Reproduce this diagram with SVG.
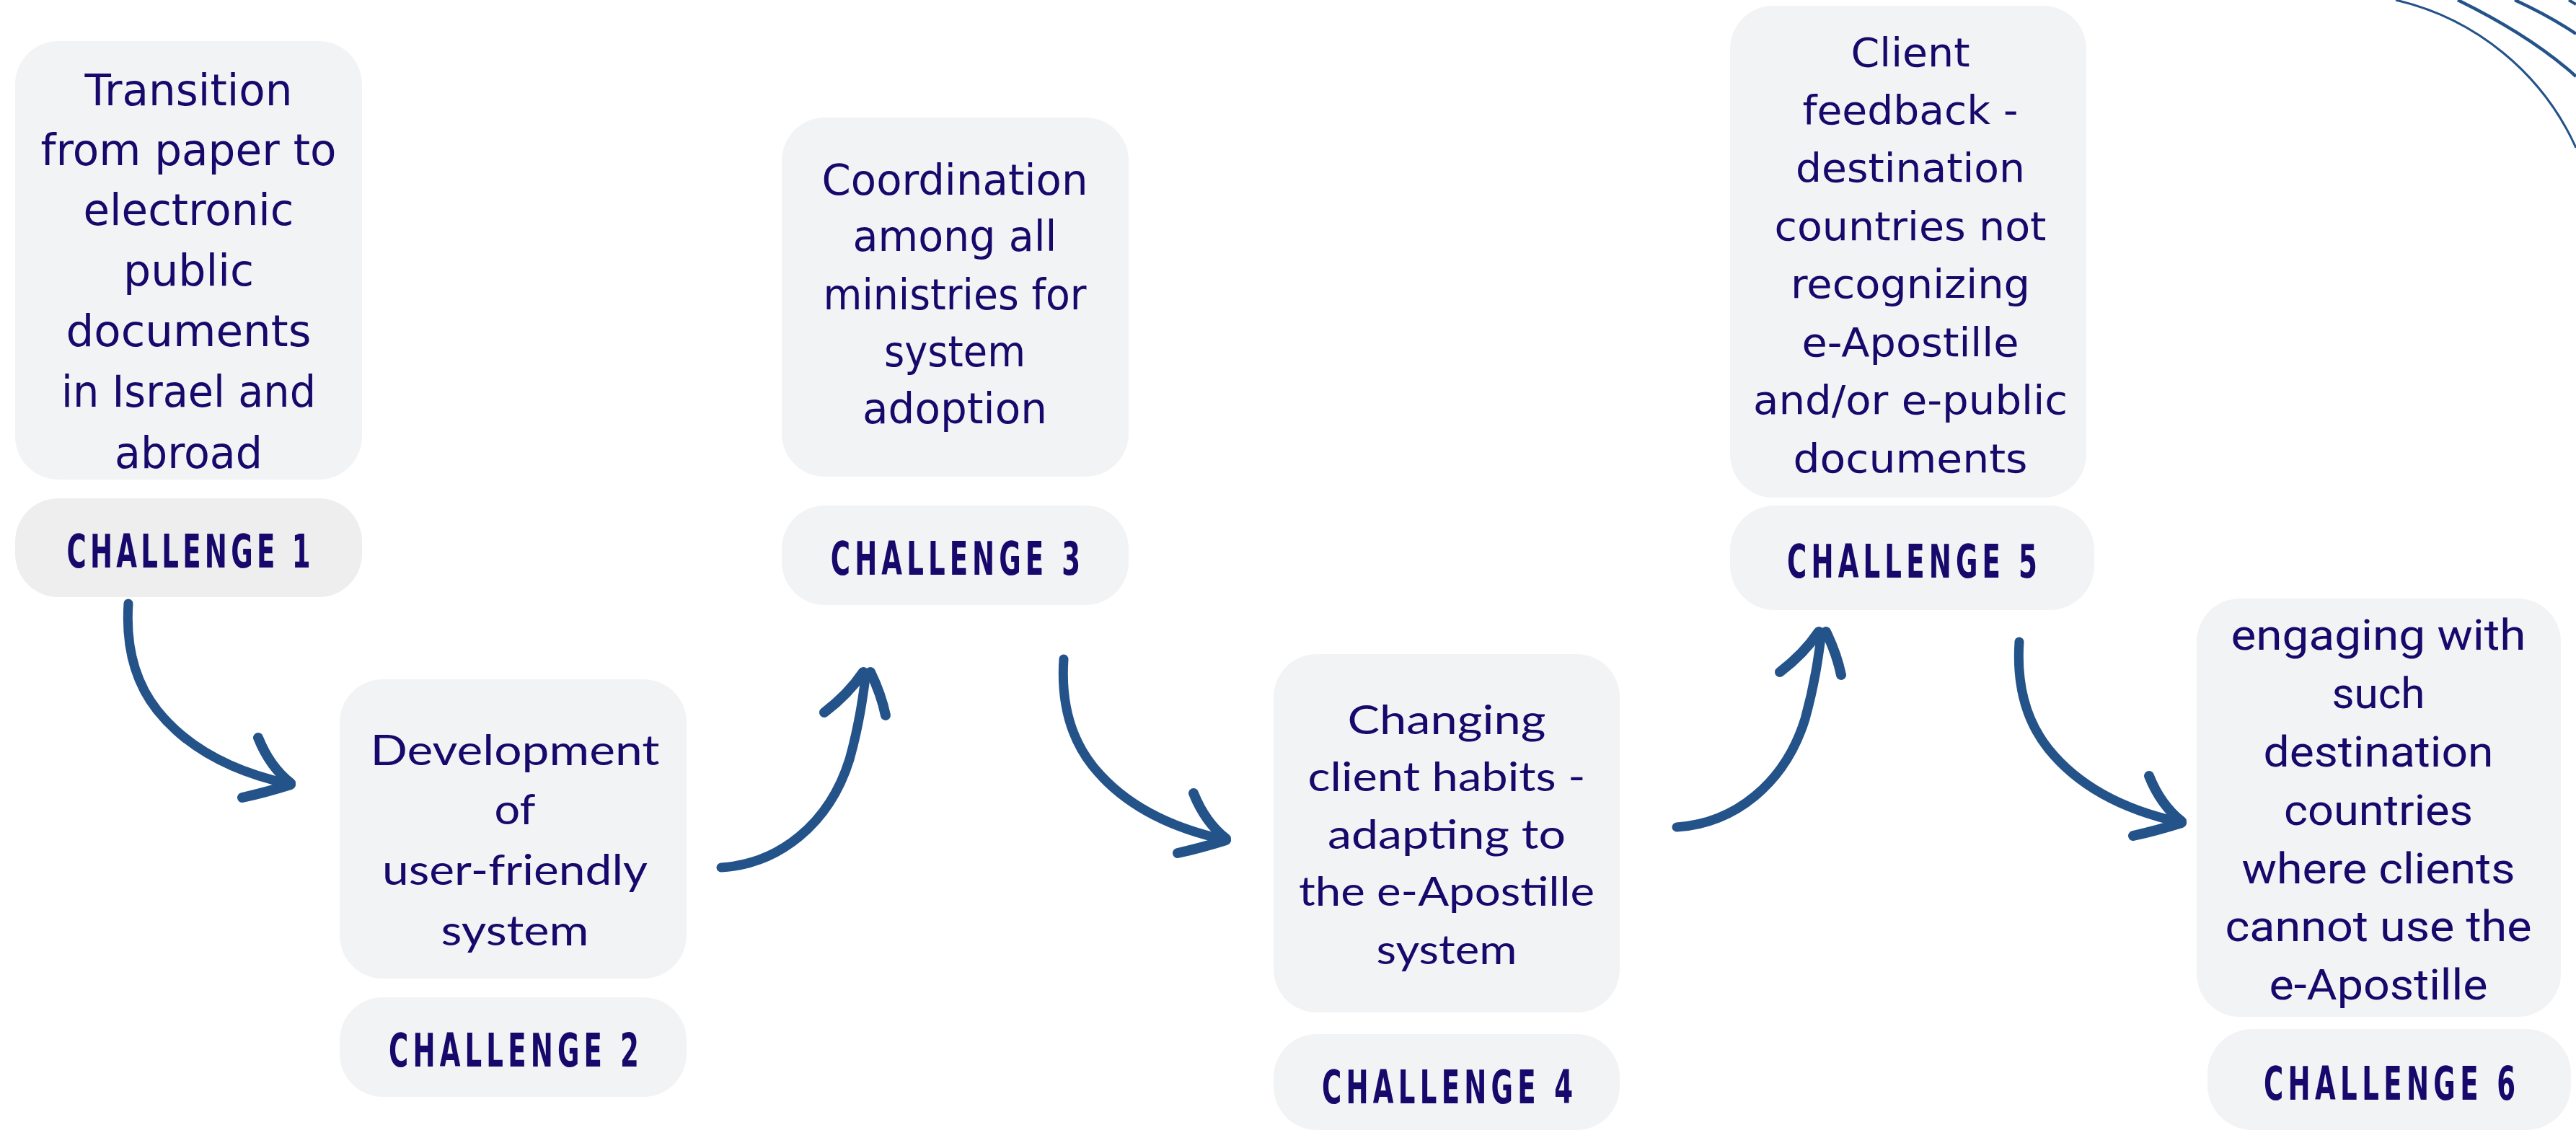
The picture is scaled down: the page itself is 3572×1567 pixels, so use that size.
<svg xmlns="http://www.w3.org/2000/svg" xmlns:xlink="http://www.w3.org/1999/xlink" width="3572" height="1567" viewBox="0 0 3572 1567">
<style>
.box{fill:#f2f3f5}
.lab1{fill:#eeeeee}
.t{fill:#16096b;text-anchor:middle}
.m{font-family:"DejaVu Sans","Noto Sans",sans-serif}
.g{font-family:Lato,"Noto Sans",sans-serif}
.r{font-family:Roboto,"Liberation Sans",sans-serif}
.c{font-family:"DejaVu Sans","Liberation Sans",sans-serif;font-weight:bold;font-size:64px}
.arr{fill:none;stroke:#24538a;stroke-linecap:round;stroke-linejoin:round}
.arc{fill:none;stroke:#24538a}
</style>
<defs>
<g id="arrowDown">
<path class="arr" stroke-width="13" d="M0,0 C-4,60 10,110 40,148 C80,198 140,232 222,250"/>
<path class="arr" stroke-width="14" d="M180,186 Q196,226 225,249"/>
<path class="arr" stroke-width="14" d="M225,251 Q190,262 158,269"/>
</g>
<g id="arrowUp">
<path class="arr" stroke-width="13" d="M0,0 C80,-5 150,-60 178,-150 C192,-200 197,-240 201,-270"/>
<path class="arr" stroke-width="14" d="M143,-215 Q176,-240 197,-271"/>
<path class="arr" stroke-width="14" d="M207,-271 Q222,-240 228,-211"/>
</g>
</defs>
<rect width="3572" height="1567" fill="#ffffff"/>

<g id="decor">
<path class="arc" stroke-width="3" d="M3322,0 A364,364 0 0 1 3572,205"/>
<path class="arc" stroke-width="4.5" d="M3408,0 Q3510,50 3572,106"/>
<path class="arc" stroke-width="4.5" d="M3487,0 Q3535,22 3572,47"/>
<path class="arc" stroke-width="4" d="M3562,0 Q3567,3 3572,6"/>
</g>

<g id="connectors">
<use xlink:href="#arrowDown" transform="translate(178,837)"/>
<use xlink:href="#arrowUp" transform="translate(1000,1203)"/>
<use xlink:href="#arrowDown" transform="translate(1475,914)"/>
<use xlink:href="#arrowUp" transform="translate(2325,1147)"/>
<use xlink:href="#arrowDown" transform="translate(2800,890)"/>
</g>

<g id="challenge1">
<rect class="box" x="21" y="57" width="481" height="608" rx="60"/>
<g class="t m" font-size="61">
<text x="261.5" y="146" textLength="288" lengthAdjust="spacingAndGlyphs">Transition</text>
<text x="261.5" y="229" textLength="410" lengthAdjust="spacingAndGlyphs">from paper to</text>
<text x="261.5" y="312" textLength="292" lengthAdjust="spacingAndGlyphs">electronic</text>
<text x="261.5" y="396" textLength="181" lengthAdjust="spacingAndGlyphs">public</text>
<text x="261.5" y="480" textLength="340" lengthAdjust="spacingAndGlyphs">documents</text>
<text x="261.5" y="564" textLength="353" lengthAdjust="spacingAndGlyphs">in Israel and</text>
<text x="261.5" y="649" textLength="205" lengthAdjust="spacingAndGlyphs">abroad</text>
</g>
<rect class="lab1" x="21" y="691" width="481" height="137" rx="60"/>
<text class="t c" transform="translate(261.5,787) scale(0.58,1)" x="0" y="0" textLength="583" lengthAdjust="spacing">CHALLENGE 1</text>
</g>

<g id="challenge2">
<rect class="box" x="471" y="942" width="481" height="415" rx="60"/>
<g class="t g" font-size="58">
<text x="714" y="1061" textLength="401" lengthAdjust="spacingAndGlyphs">Development</text>
<text x="714" y="1143" textLength="57" lengthAdjust="spacingAndGlyphs">of</text>
<text x="714" y="1227" textLength="368" lengthAdjust="spacingAndGlyphs">user-friendly</text>
<text x="714" y="1311" textLength="205" lengthAdjust="spacingAndGlyphs">system</text>
</g>
<rect class="box" x="471" y="1383" width="481" height="138" rx="60"/>
<text class="t c" transform="translate(712.5,1479) scale(0.58,1)" x="0" y="0" textLength="598" lengthAdjust="spacing">CHALLENGE 2</text>
</g>

<g id="challenge3">
<rect class="box" x="1084" y="163" width="481" height="498" rx="60"/>
<g class="t m" font-size="58">
<text x="1324" y="270" textLength="369" lengthAdjust="spacingAndGlyphs">Coordination</text>
<text x="1324" y="348" textLength="283" lengthAdjust="spacingAndGlyphs">among all</text>
<text x="1324" y="429" textLength="365" lengthAdjust="spacingAndGlyphs">ministries for</text>
<text x="1324" y="508" textLength="196" lengthAdjust="spacingAndGlyphs">system</text>
<text x="1324" y="587" textLength="256" lengthAdjust="spacingAndGlyphs">adoption</text>
</g>
<rect class="box" x="1084" y="701" width="481" height="138" rx="60"/>
<text class="t c" transform="translate(1325,797) scale(0.58,1)" x="0" y="0" textLength="597" lengthAdjust="spacing">CHALLENGE 3</text>
</g>

<g id="challenge4">
<rect class="box" x="1766" y="907" width="480" height="497" rx="60"/>
<g class="t g" font-size="56">
<text x="2006" y="1018" textLength="275" lengthAdjust="spacingAndGlyphs">Changing</text>
<text x="2006" y="1097" textLength="385" lengthAdjust="spacingAndGlyphs">client habits -</text>
<text x="2006" y="1177" textLength="330" lengthAdjust="spacingAndGlyphs">adapting to</text>
<text x="2006" y="1256" textLength="410" lengthAdjust="spacingAndGlyphs">the e-Apostille</text>
<text x="2006" y="1337" textLength="195" lengthAdjust="spacingAndGlyphs">system</text>
</g>
<rect class="box" x="1766" y="1434" width="480" height="133" rx="60"/>
<text class="t c" transform="translate(2007,1530) scale(0.58,1)" x="0" y="0" textLength="600" lengthAdjust="spacing">CHALLENGE 4</text>
</g>

<g id="challenge5">
<rect class="box" x="2399" y="8" width="494" height="682" rx="60"/>
<g class="t m" font-size="56">
<text x="2649" y="92" textLength="165" lengthAdjust="spacingAndGlyphs">Client</text>
<text x="2649" y="172" textLength="299" lengthAdjust="spacingAndGlyphs">feedback -</text>
<text x="2649" y="252" textLength="318" lengthAdjust="spacingAndGlyphs">destination</text>
<text x="2649" y="333" textLength="377" lengthAdjust="spacingAndGlyphs">countries not</text>
<text x="2649" y="413" textLength="332" lengthAdjust="spacingAndGlyphs">recognizing</text>
<text x="2649" y="494" textLength="301" lengthAdjust="spacingAndGlyphs">e-Apostille</text>
<text x="2649" y="574" textLength="436" lengthAdjust="spacingAndGlyphs">and/or e-public</text>
<text x="2649" y="655" textLength="325" lengthAdjust="spacingAndGlyphs">documents</text>
</g>
<rect class="box" x="2399" y="701" width="505" height="145" rx="62"/>
<text class="t c" transform="translate(2651.5,801) scale(0.58,1)" x="0" y="0" textLength="598" lengthAdjust="spacing">CHALLENGE 5</text>
</g>

<g id="challenge6">
<rect class="box" x="3046" y="830" width="505" height="580" rx="60"/>
<g class="t r" font-size="60">
<text x="3298" y="901" textLength="409" lengthAdjust="spacingAndGlyphs">engaging with</text>
<text x="3298" y="982" textLength="129" lengthAdjust="spacingAndGlyphs">such</text>
<text x="3298" y="1063" textLength="319" lengthAdjust="spacingAndGlyphs">destination</text>
<text x="3298" y="1144" textLength="262" lengthAdjust="spacingAndGlyphs">countries</text>
<text x="3298" y="1225" textLength="379" lengthAdjust="spacingAndGlyphs">where clients</text>
<text x="3298" y="1305" textLength="425" lengthAdjust="spacingAndGlyphs">cannot use the</text>
<text x="3298" y="1386" textLength="303" lengthAdjust="spacingAndGlyphs">e-Apostille</text>
</g>
<rect class="box" x="3061" y="1427" width="504" height="140" rx="62"/>
<text class="t c" transform="translate(3313.5,1525) scale(0.58,1)" x="0" y="0" textLength="602" lengthAdjust="spacing">CHALLENGE 6</text>
</g>
</svg>
